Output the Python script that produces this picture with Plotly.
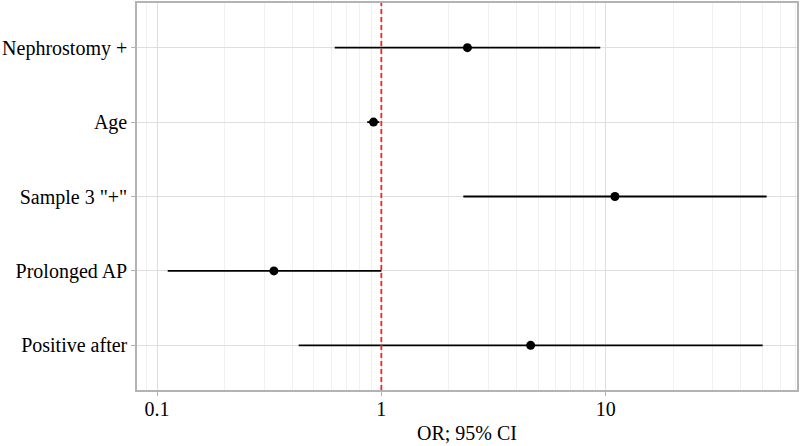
import plotly.graph_objects as go

categories = ["Nephrostomy +", "Age", 'Sample 3 "+"', "Prolonged AP", "Positive after"]
odds_ratio = [2.42, 0.923, 11.0, 0.332, 4.63]
ci_lower = [0.62, 0.865, 2.32, 0.1116, 0.428]
ci_upper = [9.46, 0.98, 52.2, 1.0, 50.1]
x_tickvals = [0.1, 1, 10]
x_ticktext = ["0.1", "1", "10"]

err_plus = [u - o for u, o in zip(ci_upper, odds_ratio)]
err_minus = [o - l for o, l in zip(odds_ratio, ci_lower)]

fig = go.Figure()
fig.add_trace(go.Scatter(
    x=odds_ratio, y=categories, mode="markers",
    marker=dict(color="black", size=9),
    error_x=dict(type="data", symmetric=False, array=err_plus, arrayminus=err_minus,
                 color="black", thickness=1.8, width=0),
    showlegend=False, cliponaxis=False,
))
fig.add_vline(x=1, line=dict(color="#ff1f1f", width=1.8, dash="5px,3px"), layer="above")

font = dict(family="Liberation Serif, Times New Roman, serif", size=20, color="black")
fig.update_layout(
    width=800, height=446,
    margin=dict(l=137, r=3, t=3, b=56, autoexpand=False),
    plot_bgcolor="white", paper_bgcolor="white",
    font=font,
    xaxis=dict(
        type="log", range=[-1.0892, 1.853], automargin=False,
        tickvals=x_tickvals, ticktext=x_ticktext,
        showgrid=True, gridcolor="#dedede", gridwidth=1,
        minor=dict(dtick="D1", showgrid=True, gridcolor="#f1f1f1", gridwidth=1, ticks=""),
        ticks="outside", ticklen=4, tickcolor="#b3b3b3",
        ticklabelstandoff=-4,
        showline=True, linecolor="#b3b3b3", linewidth=1.5, mirror=True,
        zeroline=False,
        title=dict(text="OR; 95% CI", font=font, standoff=7),
        tickfont=font,
    ),
    yaxis=dict(
        type="category", categoryorder="array", categoryarray=categories,
        range=[4.6, -0.6], automargin=False,
        showgrid=True, gridcolor="#dedede", gridwidth=1,
        ticks="outside", ticklen=4, tickcolor="#b3b3b3",
        showline=True, linecolor="#b3b3b3", linewidth=1.5, mirror=True,
        zeroline=False, tickfont=font,
    ),
)
fig.write_html(
    "out.html",
    config={"displayModeBar": False},
    post_script="document.documentElement.style.margin='0';document.body.style.margin='0';"
                "document.body.style.overflow='hidden';document.documentElement.style.overflow='hidden';",
)
